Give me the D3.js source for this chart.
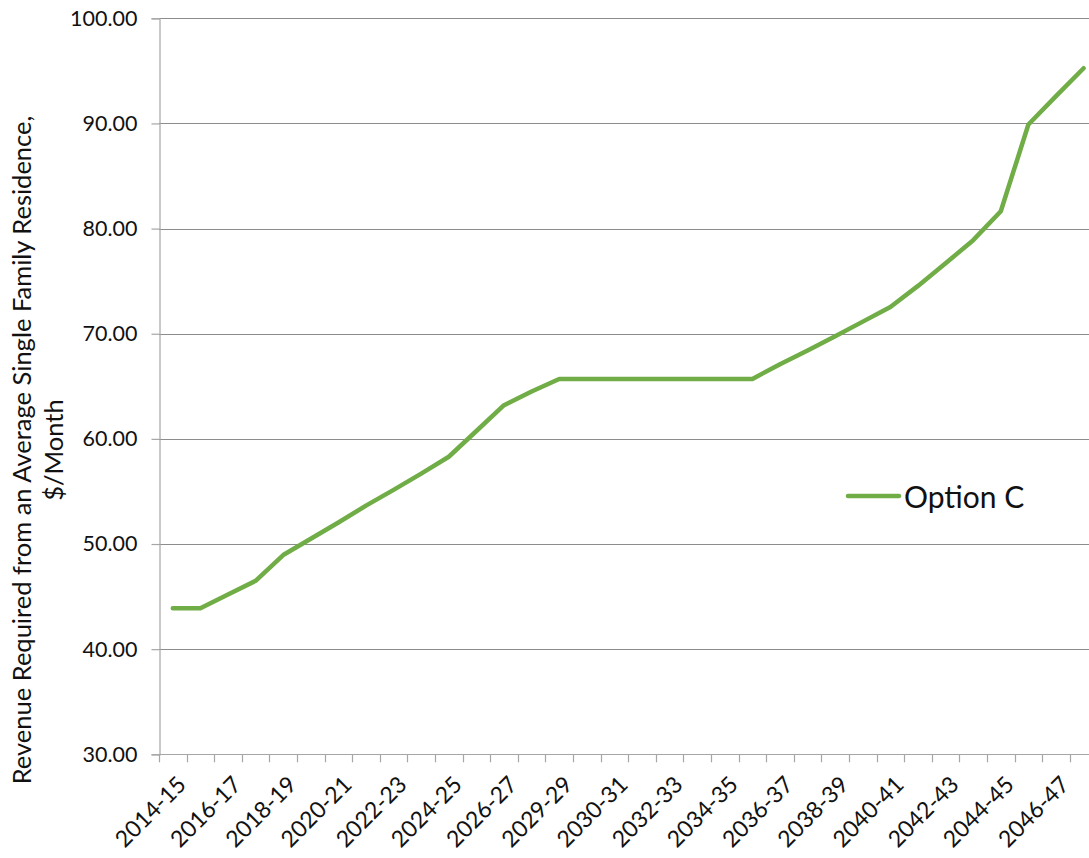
<!DOCTYPE html>
<html>
<head>
<meta charset="utf-8">
<script src="https://cdn.jsdelivr.net/npm/d3@7"></script>
<style>
  html, body { margin: 0; padding: 0; background: #ffffff; }
  svg { display: block; }
  text { font-family: Lato, "Liberation Sans", sans-serif; fill: #111111; }
</style>
</head>
<body>
<svg id="chart" width="1089" height="858"></svg>
<script>
// Fiscal years on the category axis
const categories = [
  "2014-15", "2015-16", "2016-17", "2017-18", "2018-19", "2019-20",
  "2020-21", "2021-22", "2022-23", "2023-24", "2024-25", "2025-26",
  "2026-27", "2027-28", "2029-29", "2029-30", "2030-31", "2031-32",
  "2032-33", "2033-34", "2034-35", "2035-36", "2036-37", "2037-38",
  "2038-39", "2039-40", "2040-41", "2041-42", "2042-43", "2043-44",
  "2044-45", "2045-46", "2046-47", "2047-48"
];

// Option C: revenue required per single family residence, $/month
const optionC = [
  43.9, 43.9, 45.2, 46.5, 48.95, 50.5,
  52.05, 53.65, 55.15, 56.7, 58.3, 60.75,
  63.2, 64.5, 65.7, 65.7, 65.7, 65.7,
  65.7, 65.7, 65.7, 65.7, 67.1, 68.4,
  69.75, 71.15, 72.55, 74.55, 76.7, 78.9,
  81.65, 89.9, 92.6, 95.25
];

const yTicks = [30, 40, 50, 60, 70, 80, 90, 100];
const seriesName = "Option C";
const yTitleLines = ["Revenue Required from an Average Single Family Residence,", "$/Month"];

const svg = d3.select("#chart");

const plot = { left: 159, top: 18.3, bottom: 754.3, band: 27.6 };
const plotRight = plot.left + plot.band * categories.length;

const x = d3.scaleBand()
  .domain(categories)
  .range([plot.left, plotRight])
  .paddingInner(0).paddingOuter(0);

const y = d3.scaleLinear()
  .domain([30, 100])
  .range([plot.bottom, plot.top]);

const gridColor = "#8c8c8c";
const axisColor = "#a6a6a6";

// Horizontal gridlines
svg.append("g")
  .selectAll("line")
  .data(yTicks.filter(v => v > 30))
  .join("line")
  .attr("x1", plot.left).attr("x2", plotRight)
  .attr("y1", d => Math.round(y(d)) + 0.5).attr("y2", d => Math.round(y(d)) + 0.5)
  .attr("stroke", gridColor).attr("stroke-width", 1);

// Y axis
const yAxis = svg.append("g")
  .attr("transform", `translate(${plot.left + 0.5},0)`)
  .call(d3.axisLeft(y).tickValues(yTicks).tickSize(8).tickPadding(14)
    .tickFormat(d3.format(".2f")));
yAxis.select(".domain").attr("stroke", axisColor).attr("stroke-width", 1.2);
yAxis.selectAll(".tick line").attr("stroke", axisColor).attr("stroke-width", 1.2);
yAxis.selectAll(".tick text")
  .attr("font-size", "21.5px")
  .style("font-family", "Lato, 'Liberation Sans', sans-serif")
  .attr("fill", "#111111");

// X axis: baseline, boundary ticks, and every other category label
const xAxis = svg.append("g");
xAxis.append("line")
  .attr("x1", plot.left).attr("x2", plotRight)
  .attr("y1", Math.round(plot.bottom) + 0.5).attr("y2", Math.round(plot.bottom) + 0.5)
  .attr("stroke", axisColor).attr("stroke-width", 1.2);
xAxis.selectAll("line.tick")
  .data(categories)
  .join("line")
  .attr("class", "tick")
  .attr("x1", d => Math.round(x(d)) + 0.5).attr("x2", d => Math.round(x(d)) + 0.5)
  .attr("y1", plot.bottom).attr("y2", plot.bottom + 8)
  .attr("stroke", axisColor).attr("stroke-width", 1.2);
xAxis.selectAll("text")
  .data(categories.filter((d, i) => i % 2 === 0))
  .join("text")
  .attr("transform", d => `translate(${x(d) + x.bandwidth() / 2 + 3},${plot.bottom + 20}) rotate(-45)`)
  .attr("text-anchor", "end")
  .attr("dy", "0.72em")
  .attr("font-size", "23px")
  .text(d => d);

// Series line
const line = d3.line()
  .x((d, i) => x(categories[i]) + x.bandwidth() / 2)
  .y(d => y(d));

svg.append("path")
  .datum(optionC)
  .attr("d", line)
  .attr("fill", "none")
  .attr("stroke", "#70ad47")
  .attr("stroke-width", 4.5)
  .attr("stroke-linejoin", "round")
  .attr("stroke-linecap", "round");

// Legend
const legend = svg.append("g").attr("transform", "translate(848,496)");
legend.append("line")
  .attr("x1", 0).attr("x2", 51).attr("y1", 0).attr("y2", 0)
  .attr("stroke", "#70ad47").attr("stroke-width", 4.5).attr("stroke-linecap", "round");
legend.append("text")
  .attr("x", 56).attr("y", 12)
  .attr("font-size", "30px")
  .text(seriesName);

// Y axis title
const title = svg.append("g").attr("transform", "translate(0,450) rotate(-90)");
title.selectAll("text")
  .data(yTitleLines)
  .join("text")
  .attr("x", 0)
  .attr("y", (d, i) => i === 0 ? 31 : 63)
  .attr("text-anchor", "middle")
  .attr("font-size", "25.5px")
  .text(d => d);
</script>
</body>
</html>
